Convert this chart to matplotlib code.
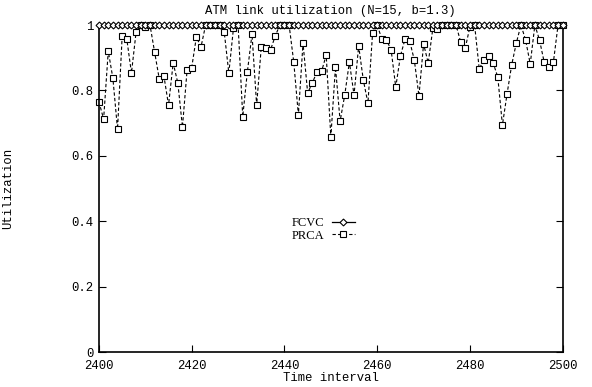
import matplotlib
matplotlib.use("Agg")
import matplotlib.pyplot as plt
import numpy as np

# time intervals 2400..2500
intervals = list(range(2400, 2501))

fcvc = [1.0] * len(intervals)

prca = [
    0.765, 0.712, 0.920, 0.837, 0.681, 0.966, 0.957, 0.853, 0.978, 1.000,  # 2400-2409
    0.995, 1.000, 0.917, 0.835, 0.844, 0.755, 0.884, 0.823, 0.688, 0.862,  # 2410-2419
    0.870, 0.963, 0.933, 1.000, 1.000, 1.000, 1.000, 0.980, 0.853, 0.990,  # 2420-2429
    1.000, 0.720, 0.857, 0.972, 0.755, 0.933, 0.930, 0.924, 0.966, 1.000,  # 2430-2439
    1.000, 1.000, 0.887, 0.725, 0.945, 0.792, 0.823, 0.856, 0.858, 0.908,  # 2440-2449
    0.658, 0.871, 0.706, 0.786, 0.887, 0.786, 0.936, 0.832, 0.761, 0.975,  # 2450-2459
    1.000, 0.957, 0.954, 0.924, 0.810, 0.905, 0.957, 0.951, 0.893, 0.783,  # 2460-2469
    0.942, 0.884, 0.990, 0.988, 1.000, 1.000, 1.000, 1.000, 0.948, 0.930,  # 2470-2479
    0.995, 1.000, 0.866, 0.893, 0.905, 0.884, 0.841, 0.694, 0.789, 0.878,  # 2480-2489
    0.945, 1.000, 0.954, 0.881, 1.000, 0.954, 0.887, 0.871, 0.887, 1.000,  # 2490-2499
    1.000,                                                                 # 2500
]

x_ticks = [2400, 2420, 2440, 2460, 2480, 2500]
y_ticks = [0, 0.2, 0.4, 0.6, 0.8, 1.0]
y_tick_labels = ["0", "0.2", "0.4", "0.6", "0.8", "1"]

mono = "Liberation Mono"
fs = 8.8

fig = plt.figure(figsize=(5.92, 3.87), dpi=100)
ax = fig.add_axes([0.1672, 0.0904, 0.7833, 0.845])

ax.plot(intervals, fcvc, color="black", lw=0.9, marker="D", markersize=3.5,
        markerfacecolor="white", markeredgecolor="black", markeredgewidth=0.8,
        label="FCVC", clip_on=False, zorder=3)
ax.plot(intervals, prca, color="black", lw=0.8, ls=(0, (3, 2)), marker="s",
        markersize=3.8, markerfacecolor="white", markeredgecolor="black",
        markeredgewidth=0.8, label="PRCA", clip_on=False, zorder=2)

ax.set_xlim(2400, 2500)
ax.set_ylim(0, 1)
ax.set_xticks(x_ticks)
ax.set_xticklabels([str(t) for t in x_ticks], fontfamily=mono, fontsize=fs)
ax.set_yticks(y_ticks)
ax.set_yticklabels(y_tick_labels, fontfamily=mono, fontsize=fs)
ax.tick_params(direction="in", length=5, width=0.8, top=False, right=True, pad=4)
ax.tick_params(axis="x", pad=6)

for s in ax.spines.values():
    s.set_linewidth(1.2)

ax.set_title("ATM link utilization (N=15, b=1.3)", fontfamily=mono, fontsize=fs, pad=8)
ax.set_xlabel("Time interval", fontfamily=mono, fontsize=fs, labelpad=0)
ax.set_ylabel("Utilization", fontfamily=mono, fontsize=fs, labelpad=41)

leg = ax.legend(loc="center right", bbox_to_anchor=(0.565, 0.375), frameon=False,
                markerfirst=False, handlelength=1.8, handletextpad=0.6,
                labelspacing=0.05, borderpad=0,
                prop={"family": "Liberation Serif", "size": 9})

fig.savefig("out.png", dpi=100)
